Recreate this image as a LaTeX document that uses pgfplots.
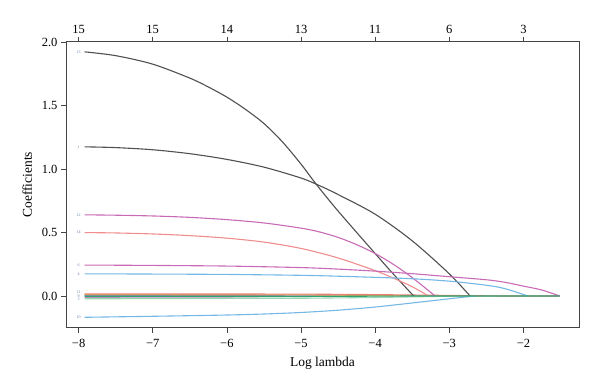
\documentclass[border=0pt]{standalone}
\usepackage{fontspec}
\setmainfont{Liberation Serif}
\usepackage{pgfplots}
\pgfplotsset{compat=1.18}
\definecolor{dg}{HTML}{505050}
\definecolor{mag}{HTML}{C96AB6}
\definecolor{sal}{HTML}{F08C8C}
\definecolor{lb}{HTML}{74B8E6}
\definecolor{rd}{HTML}{E8806E}
\definecolor{org}{HTML}{D9A65A}
\definecolor{grn}{HTML}{2FA374}
\definecolor{lgn}{HTML}{9AD6AE}
\definecolor{nv}{HTML}{3B5B8C}
\definecolor{frame}{HTML}{444444}
\begin{document}
\begin{tikzpicture}
\pgfplotsset{
  common/.style={
    width=513pt, height=286pt, scale only axis,
    xmin=-8.17, xmax=-1.25, ymin=-0.25, ymax=2.005,
    xtick={-8,-7,-6,-5,-4,-3,-2},
    tick align=outside, major tick length=5pt,
    axis line style={frame, line width=0.8pt},
    every tick/.style={frame, line width=0.7pt},
    tick label style={font=\fontsize{12.5}{14}\selectfont},
    label style={font=\fontsize{13.5}{15}\selectfont},
  }
}
\begin{axis}[common,
  xtick pos=bottom, ytick pos=left,
  xticklabels={−8,−7,−6,−5,−4,−3,−2},
  xticklabel style={yshift=-3pt},
  ytick={0,0.5,1,1.5,2},
  yticklabels={0.0,0.5,1.0,1.5,2.0},
  xlabel={Log lambda}, ylabel={Coefficients},
  xlabel style={yshift=-3pt},
  ylabel style={yshift=3pt},
  every axis plot/.append style={line width=1.1pt, no marks},
]
% near-zero coefficients
\addplot[sal!80] coordinates {(-7.92,0.008) (-7,0.006) (-6.5,0)};
\addplot[lb] coordinates {(-7.92,0.005) (-6.5,0.003) (-5.5,0)};
\addplot[mag!80] coordinates {(-7.92,-0.010) (-6,-0.008) (-4.6,0)};
\addplot[nv!70] coordinates {(-7.92,0.003) (-5.5,0.002) (-4.3,0)};
\addplot[org] coordinates {(-7.92,0.011) (-5,0.009) (-3.2,0)};
\addplot[lgn] coordinates {(-7.92,-0.022) (-5,-0.018) (-4,-0.012) (-2.8,0) (-1.51,0)};
\addplot[rd] coordinates {(-7.92,0.017) (-5,0.015) (-4,0.011) (-2.3,0) (-1.51,0)};
% variable 1
\addplot[dg, smooth] coordinates {(-7.92,1.176) (-7.5,1.170) (-7.0,1.153) (-6.5,1.122) (-6.0,1.077) (-5.5,1.016) (-5.0,0.930) (-4.75,0.870) (-4.5,0.800) (-4.0,0.645) (-3.5,0.435) (-3.0,0.175) (-2.72,0)};
% variable 13
\addplot[dg, smooth] coordinates {(-7.92,1.925) (-7.5,1.895) (-7.0,1.828) (-6.5,1.718) (-6.25,1.648) (-6.0,1.568) (-5.75,1.472) (-5.5,1.360) (-5.25,1.215) (-5.0,1.040) (-4.8,0.885) (-4.5,0.670) (-4.0,0.335) (-3.75,0.170) (-3.48,0)};
% variable 12
\addplot[mag, smooth] coordinates {(-7.92,0.640) (-7.5,0.637) (-7.0,0.631) (-6.5,0.620) (-6.0,0.602) (-5.5,0.576) (-5.0,0.535) (-4.75,0.505) (-4.5,0.462) (-4.25,0.405) (-4.0,0.335) (-3.75,0.248) (-3.5,0.145) (-3.19,0)};
% variable 14
\addplot[sal, smooth] coordinates {(-7.92,0.500) (-7.5,0.497) (-7.0,0.489) (-6.5,0.476) (-6.0,0.456) (-5.5,0.425) (-5.0,0.375) (-4.5,0.300) (-4.0,0.200) (-3.75,0.140) (-3.5,0.073) (-3.28,0)};
% variable 6
\addplot[mag, smooth] coordinates {(-7.92,0.244) (-7.0,0.241) (-6.0,0.236) (-5.0,0.224) (-4.5,0.212) (-4.0,0.196) (-3.5,0.176) (-3.0,0.152) (-2.5,0.128) (-2.25,0.108) (-2.0,0.078) (-1.75,0.047) (-1.51,0)};
% variable 4
\addplot[lb, smooth] coordinates {(-7.92,0.175) (-7.0,0.173) (-6.0,0.170) (-5.0,0.163) (-4.5,0.156) (-4.0,0.147) (-3.5,0.136) (-3.0,0.117) (-2.5,0.085) (-2.25,0.058) (-1.94,0)};
% variable 10
\addplot[lb, smooth] coordinates {(-7.92,-0.168) (-7.0,-0.160) (-6.0,-0.150) (-5.5,-0.142) (-5.0,-0.130) (-4.5,-0.112) (-4.0,-0.087) (-3.5,-0.055) (-3.0,-0.022) (-2.66,0)};
% last near-zero coefficient, drawn on top
\addplot[grn] coordinates {(-7.92,-0.004) (-5,-0.004) (-3.5,0) (-1.51,0)};
% variable labels
\begin{scope}[every node/.style={font=\fontsize{4}{4.5}\selectfont, text=nv!80, inner sep=0pt}]
\node at (axis cs:-8.0,1.925) {13};
\node at (axis cs:-8.0,1.176) {1};
\node at (axis cs:-8.0,0.64) {12};
\node at (axis cs:-8.0,0.50) {14};
\node at (axis cs:-8.0,0.244) {6};
\node at (axis cs:-8.0,0.175) {4};
\node at (axis cs:-8.0,0.027) {11};
\node at (axis cs:-8.0,0.0) {9};
\node at (axis cs:-8.0,-0.027) {3};
\node at (axis cs:-8.0,-0.168) {10};
\end{scope}
\end{axis}
\begin{axis}[common,
  axis x line*=top, hide y axis,
  xticklabels={15,15,14,13,11,6,3},
]
\end{axis}
\path ([shift={(-66pt,-61.3pt)}]current axis.south west) rectangle ++(600pt,389pt);
\end{tikzpicture}
\end{document}
